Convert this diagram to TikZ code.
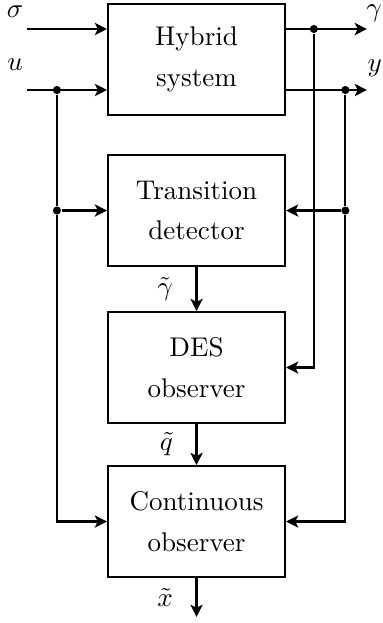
\documentclass[tikz,border=0pt]{standalone}
\usepackage{amsmath}
\usepackage{tikz}
\usetikzlibrary{arrows.meta}

\begin{document}
\begin{tikzpicture}[
    block/.style={draw, thick, minimum width=2.30cm, minimum height=1.44cm, align=center, font=\fontsize{10}{15}\selectfont},
    arr/.style={thick, -{Stealth[length=4.5pt, width=4.5pt, inset=1.1pt]}},
    wire/.style={thick},
    jdot/.style={circle, fill, inner sep=0pt, minimum size=3pt},
    lbl/.style={left=5pt},
    sig/.style={inner sep=0.5pt}
]
    % 图的边界
    \useasboundingbox (0,0) rectangle (4.966,-8.099);

    % 四个方框
    \node[block] (hs) at (2.555,-0.774) {Hybrid\\system};
    \node[block] (td) at (2.555,-2.737) {Transition\\detector};
    \node[block] (des) at (2.555,-4.778) {DES\\observer};
    \node[block] (co) at (2.555,-6.780) {Continuous\\observer};

    % 输入输出端点
    \coordinate (sigin) at (0.35,-0.377);
    \coordinate (uin) at (0.35,-1.170);
    \coordinate (gout) at (4.77,-0.377);
    \coordinate (yout) at (4.77,-1.170);
    \coordinate (xout) at (2.555,-8.02);

    % 分支点(黑色圆点)
    \node[jdot] (ud) at (0.74,-1.170) {};
    \node[jdot] (gd) at (4.08,-0.377) {};
    \node[jdot] (yd) at (4.49,-1.170) {};
    \node[jdot] (ud2) at (ud |- td.west) {};
    \node[jdot] (yd2) at (yd |- td.east) {};

    % 混合系统的输入和输出
    \draw[arr] (sigin) -- (sigin -| hs.west);
    \draw[arr] (uin) -- (uin -| hs.west);
    \draw[arr] (sigin -| hs.east) -- (gout);
    \draw[arr] (uin -| hs.east) -- (yout);

    % 反馈到各观测器
    \draw[wire] (ud) -- (ud2);
    \draw[arr] (ud2) -- (td.west);
    \draw[arr] (ud2) -- (ud2 |- co.west) -- (co.west);
    \draw[wire] (yd) -- (yd2);
    \draw[arr] (yd2) -- (td.east);
    \draw[arr] (yd2) -- (yd2 |- co.east) -- (co.east);
    \draw[arr] (gd) -- (gd |- des.east) -- (des.east);

    % 竖直方向的信号
    \draw[arr] (td) -- node[lbl] {$\tilde{\gamma}$} (des);
    \draw[arr] (des) -- node[lbl] {$\tilde{q}$} (co);
    \draw[arr] (co) -- node[lbl] {$\tilde{x}$} (xout);

    % 信号名称
    \node[sig] (siglbl) at (0.195,-0.15) {$\sigma$};
    \node[sig] (ulbl) at (0.195,-0.84) {$u$};
    \node[sig] (glbl) at (4.865,-0.17) {$\gamma$};
    \node[sig] (ylbl) at (4.87,-0.89) {$y$};
\end{tikzpicture}
\end{document}
